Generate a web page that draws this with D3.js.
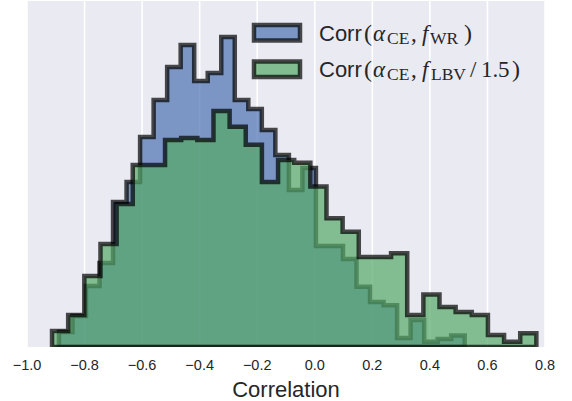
<!DOCTYPE html>
<html>
<head>
<meta charset="utf-8">
<script src="https://cdn.jsdelivr.net/npm/d3@7"></script>
<style>
  html, body { margin: 0; padding: 0; background: #ffffff; }
  svg { display: block; }
</style>
</head>
<body>
<svg id="chart" width="572" height="401"></svg>
<script>
// ---- data ----
const xTicks = [-1.0, -0.8, -0.6, -0.4, -0.2, 0.0, 0.2, 0.4, 0.6, 0.8];

// Corr(alpha_CE, f_WR): 30 equal bins between these limits
const wrRange = [-0.889, 0.521];
const wrCounts = [4.8, 10.0, 19.7, 27.1, 46.8, 53.2, 67.7, 79.7, 90.3, 97.4,
                  85.8, 88.4, 100.0, 79.7, 76.8, 70.0, 61.9, 50.6, 57.7, 32.6,
                  32.6, 28.4, 19.4, 14.5, 13.5, 2.9, 8.7, 1.7, 2.6, 3.7];

// Corr(alpha_CE, f_LBV/1.5): 30 equal bins between these limits
const lbvRange = [-0.913, 0.770];
const lbvCounts = [5.2, 10.3, 22.9, 33.2, 46.1, 58.7, 58.7, 66.8, 67.4, 66.8,
                   76.1, 71.0, 65.2, 53.2, 60.3, 59.4, 51.8, 41.5, 37.2, 29.0,
                   29.0, 30.2, 10.3, 16.9, 12.9, 11.3, 10.3, 3.9, 1.7, 4.4];

const yMax = 111.6;

// ---- layout ----
const svg = d3.select("#chart");
const L = 27, R = 545, T = 1, B = 347;

const x = d3.scaleLinear().domain([-1.0, 0.8]).range([L, R]);
const y = d3.scaleLinear().domain([0, yMax]).range([B, T]);

svg.append("defs").append("clipPath").attr("id", "plotclip")
  .append("rect").attr("x", L).attr("y", T).attr("width", R - L).attr("height", B - T);

// background
svg.append("rect").attr("x", L).attr("y", T).attr("width", R - L).attr("height", B - T)
  .attr("fill", "#EAEAF2");

// vertical grid lines
svg.append("g").selectAll("line").data(xTicks).join("line")
  .attr("x1", d => x(d)).attr("x2", d => x(d))
  .attr("y1", T).attr("y2", B)
  .attr("stroke", "#ffffff").attr("stroke-width", 1.6);

// histogram step paths
function histPath(range, counts) {
  const n = counts.length;
  const w = (range[1] - range[0]) / n;
  const p = d3.path();
  p.moveTo(x(range[0]), y(0));
  counts.forEach((c, i) => {
    p.lineTo(x(range[0] + i * w), y(c));
    p.lineTo(x(range[0] + (i + 1) * w), y(c));
  });
  p.lineTo(x(range[1]), y(0));
  p.closePath();
  return p.toString();
}

const series = [
  { range: wrRange, counts: wrCounts, color: "#4C72B0" },
  { range: lbvRange, counts: lbvCounts, color: "#55A868" }
];

const gHist = svg.append("g").attr("clip-path", "url(#plotclip)");
series.forEach(s => {
  gHist.append("path")
    .attr("d", histPath(s.range, s.counts))
    .attr("fill", s.color).attr("fill-opacity", 0.7)
    .attr("stroke", "#000").attr("stroke-opacity", 0.7)
    .attr("stroke-width", 4.5).attr("stroke-linejoin", "miter");
});

// x axis tick labels
const fmt = d => (d < 0 ? "\u2212" : "") + Math.abs(d).toFixed(1);
svg.append("g").selectAll("text").data(xTicks).join("text")
  .attr("x", d => x(d)).attr("y", 370)
  .attr("text-anchor", "middle")
  .attr("font-family", "Liberation Sans, Arial, sans-serif")
  .attr("font-size", 14.5).attr("fill", "#262626")
  .text(fmt);

// x axis label
svg.append("text")
  .attr("x", (L + R) / 2).attr("y", 397)
  .attr("text-anchor", "middle")
  .attr("font-family", "Liberation Sans, Arial, sans-serif")
  .attr("font-size", 22).attr("fill", "#262626")
  .text("Correlation");

// legend
const serif = "Liberation Serif, Times New Roman, serif";
const sans = "Liberation Sans, Arial, sans-serif";
// pieces: [text, x offset from 319, font, size, italic, baseline shift]
const legendItems = [
  { color: "#4C72B0", pieces: [
    ["Corr", 0, sans, 22, false, 0],
    ["(", 45, serif, 24, false, 0],
    ["\u03b1", 54, serif, 23, true, 0],
    ["CE", 68, serif, 17.5, false, 3],
    [",", 92, serif, 23, false, 0],
    ["f", 103, serif, 23, true, 0],
    ["WR", 111, serif, 17.5, false, 3],
    [")", 145, serif, 24, false, 0]
  ]},
  { color: "#55A868", pieces: [
    ["Corr", 0, sans, 22, false, 0],
    ["(", 45, serif, 24, false, 0],
    ["\u03b1", 54, serif, 23, true, 0],
    ["CE", 68, serif, 17.5, false, 3],
    [",", 92, serif, 23, false, 0],
    ["f", 103, serif, 23, true, 0],
    ["LBV", 112, serif, 17.5, false, 3],
    ["/", 151, serif, 23, false, 0],
    ["1.", 162, serif, 23, false, 0],
    ["5", 179, serif, 23, false, 0],
    [")", 193, serif, 24, false, 0]
  ]}
];
const leg = svg.append("g");
legendItems.forEach((it, i) => {
  const yTop = 25 + i * 36.5;
  leg.append("rect").attr("x", 254).attr("y", yTop).attr("width", 46).attr("height", 15.5)
    .attr("fill", it.color).attr("fill-opacity", 0.7)
    .attr("stroke", "#000").attr("stroke-opacity", 0.7).attr("stroke-width", 4.5);
  const t = leg.append("text").attr("y", yTop + 15.8).attr("fill", "#262626");
  it.pieces.forEach(([s, dx, fam, size, ital, shift]) => {
    t.append("tspan")
      .attr("x", 319 + dx).attr("y", yTop + 15.8 + shift)
      .attr("font-family", fam).attr("font-size", size)
      .attr("font-style", ital ? "italic" : "normal")
      .text(s);
  });
});
</script>
</body>
</html>
